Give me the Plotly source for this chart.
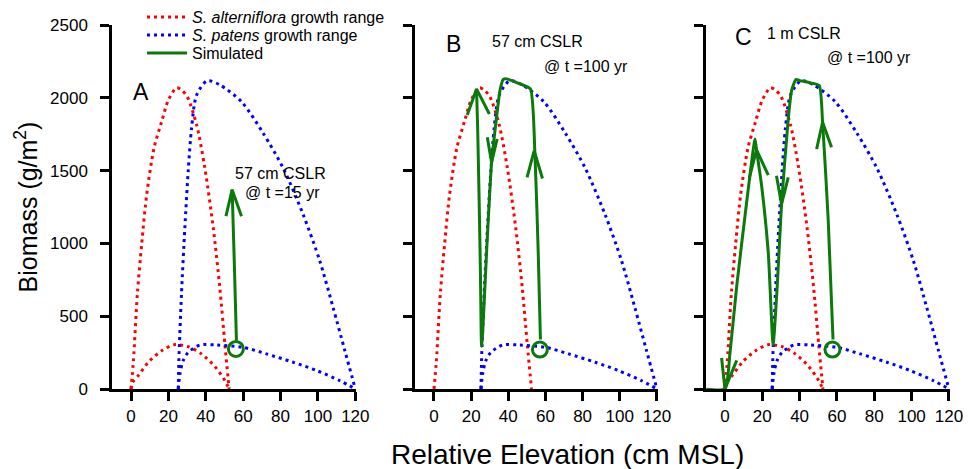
import plotly.graph_objects as go

# ---------------- data ----------------
# S. alterniflora growth range (upper & lower bounds)
alt_hi_x = [0, 1.3, 3.4, 5.7, 8.4, 12.3, 16.4, 20.0, 24.4, 27.3, 30.1, 35.1, 39.5, 44.0, 47.5, 50.2, 52.5]
alt_hi_y = [0, 195, 651, 993, 1335, 1654, 1837, 1985, 2069, 2050, 2007, 1814, 1517, 1107, 696, 309, 0]
alt_lo_x = [0, 0.8, 3.9, 9.3, 16.4, 23.0, 30.6, 37.7, 44.9, 50.2, 52.5]
alt_lo_y = [0, 45, 92, 184, 263, 304, 291, 241, 154, 58, 0]

# S. patens growth range (upper & lower bounds)
pat_hi_x = [25.3, 25.6, 27.0, 28.8, 30.6, 32.4, 35.1, 40.8, 47.6, 59.1, 70.7, 81.4, 92.1, 101.0, 108.1, 114.4, 120]
pat_hi_y = [0, 195, 651, 1107, 1495, 1791, 2019, 2117, 2088, 1973, 1757, 1517, 1198, 879, 560, 263, 0]
pat_lo_x = [25.3, 26.2, 27.9, 30.6, 36.9, 45.8, 60.0, 72.5, 86.7, 99.2, 111.6, 120]
pat_lo_y = [0, 104, 195, 252, 302, 302, 286, 241, 184, 127, 58, 0]

# Simulated trajectories
simA_x = [56.4, 55.3, 54.1]
simA_y = [332, 850, 1369]
simB_x = [57.3, 56.1, 54.3, 51.9, 46.2, 39.1, 37.3, 35.5, 34.0, 31.0, 28.3, 26.2, 25.6, 25.0, 24.3, 23.5, 22.9]
simB_y = [340, 937, 1625, 2061, 2096, 2130, 2126, 2050, 1901, 1556, 937, 386, 293, 800, 1300, 1800, 2061]
simC_x = [57.9, 55.3, 52.3, 50.5, 45.0, 40.1, 38.0, 35.7, 33.9, 30.3, 28.0, 25.8, 23.2, 19.6, 16.9, 16.1, 11.6, 6.3, 2.7, 0, -12]
simC_y = [340, 1166, 1832, 2084, 2105, 2118, 2125, 2050, 1855, 1269, 707, 305, 937, 1400, 1643, 1717, 1281, 707, 248, 0, 0]

# Starting points (open circles)
startA = (56.1, 275)
startB = (57.0, 271)
startC = (57.6, 271)

# Arrowheads (wing, tip, wing)
arrowsA = [([50.8, 54.1, 59.1], [1187, 1369, 1187])]
arrowsB = [([17.9, 22.9, 29.8], [1882, 2061, 1889]),
           ([28.7, 31.0, 34.0], [1729, 1556, 1717]),
           ([50.1, 53.9, 58.4], [1453, 1636, 1446])]
arrowsC = [([49.1, 52.3, 57.1], [1648, 1832, 1660]),
           ([27.6, 30.3, 33.9], [1464, 1269, 1453]),
           ([13.0, 16.9, 23.2], [1446, 1643, 1469]),
           ([-1.8, 0.0, 6.3], [213, 0, 197])]

panel_labels = ["A", "B", "C"]
scenario_line1 = ["57 cm CSLR", "57 cm CSLR", "1 m CSLR"]
scenario_line2 = ["@ t =15 yr", "@ t =100 yr", "@ t =100 yr"]

x_ticks = [0, 20, 40, 60, 80, 100, 120]
y_ticks = [0, 500, 1000, 1500, 2000, 2500]

RED = "#ff0000"
BLUE = "#0000ff"
GREEN = "#0b7a0b"
DOT = "3px,4px"
FONT = "Arial, Liberation Sans, sans-serif"

fig = go.Figure()

panels = [
    ("x", "y", simA_x, simA_y, startA, arrowsA, True),
    ("x2", "y2", simB_x, simB_y, startB, arrowsB, False),
    ("x3", "y3", simC_x, simC_y, startC, arrowsC, True),
]

for i, (xa, ya, sx, sy, st, arrows, show_red_low) in enumerate(panels):
    first = i == 0
    fig.add_trace(go.Scatter(x=alt_hi_x, y=alt_hi_y, xaxis=xa, yaxis=ya, mode="lines",
                             line=dict(color=RED, width=3, dash=DOT, shape="spline", smoothing=0.8),
                             name="<i>S. alterniflora</i> growth range", showlegend=first,
                             legend="legend", legendgroup="alt"))
    if show_red_low:
        fig.add_trace(go.Scatter(x=alt_lo_x, y=alt_lo_y, xaxis=xa, yaxis=ya, mode="lines",
                                 line=dict(color=RED, width=3, dash=DOT, shape="spline", smoothing=0.8),
                                 showlegend=False, legend="legend", legendgroup="alt"))
    fig.add_trace(go.Scatter(x=pat_hi_x, y=pat_hi_y, xaxis=xa, yaxis=ya, mode="lines",
                             line=dict(color=BLUE, width=3, dash=DOT, shape="spline", smoothing=0.8),
                             name="<i>S. patens</i> growth range", showlegend=first,
                             legend="legend2", legendgroup="pat"))
    fig.add_trace(go.Scatter(x=pat_lo_x, y=pat_lo_y, xaxis=xa, yaxis=ya, mode="lines",
                             line=dict(color=BLUE, width=3, dash=DOT, shape="spline", smoothing=0.8),
                             showlegend=False, legend="legend2", legendgroup="pat"))
    fig.add_trace(go.Scatter(x=sx, y=sy, xaxis=xa, yaxis=ya, mode="lines",
                             line=dict(color=GREEN, width=3, shape="spline", smoothing=0.5),
                             name="Simulated", showlegend=first, legend="legend3",
                             legendgroup="sim"))
    for ax_, ay_ in arrows:
        fig.add_trace(go.Scatter(x=ax_, y=ay_, xaxis=xa, yaxis=ya, mode="lines",
                                 line=dict(color=GREEN, width=3),
                                 showlegend=False, legend="legend3", legendgroup="sim"))
    fig.add_trace(go.Scatter(x=[st[0]], y=[st[1]], xaxis=xa, yaxis=ya, mode="markers",
                             marker=dict(symbol="circle-open", size=15, color=GREEN,
                                         line=dict(color=GREEN, width=3)),
                             showlegend=False, legend="legend3", legendgroup="sim"))

W, H = 976, 469
x_domains = [[112.3 / W, 355.9 / W], [415.4 / W, 657.5 / W], [706.3 / W, 949.5 / W]]
y_domain = [1 - 389 / H, 1 - 25 / H]

axis_common = dict(showline=True, linecolor="black", linewidth=3, ticks="outside",
                   ticklen=9, tickwidth=3, tickcolor="black", showgrid=False, zeroline=False,
                   automargin=False,
                   tickfont=dict(family=FONT, size=17, color="black"))

legend_common = dict(x=142 / W, xanchor="left", yanchor="middle",
                     bgcolor="rgba(0,0,0,0)", font=dict(family=FONT, size=16, color="black"),
                     tracegroupgap=0, itemwidth=40)

layout = dict(
    width=W, height=H, margin=dict(l=0, r=0, t=0, b=0, autoexpand=False),
    paper_bgcolor="white", plot_bgcolor="rgba(0,0,0,0)",
    font=dict(family=FONT, color="black"),
    legend=dict(legend_common, y=1 - 17 / H),
    legend2=dict(legend_common, y=1 - 35 / H),
    legend3=dict(legend_common, y=1 - 53 / H),
    showlegend=True,
)

for i in range(3):
    sfx = "" if i == 0 else str(i + 1)
    layout["xaxis" + sfx] = dict(axis_common, domain=x_domains[i], range=[-10, 120.3],
                                 tickvals=x_ticks, anchor="y" + sfx, ticklabelstandoff=1)
    layout["yaxis" + sfx] = dict(axis_common, domain=y_domain, range=[0, 2500],
                                 tickvals=y_ticks, anchor="x" + sfx,
                                 showticklabels=(i == 0), ticklabelstandoff=9)

layout["yaxis"]["title"] = dict(text="Biomass (g/m<sup>2</sup>)",
                                font=dict(family=FONT, size=25, color="black"), standoff=6)

fig.update_layout(**layout)

# panel letters and scenario labels (in data coordinates of each panel)
letter_pos = [(5.3, 2042), (10.7, 2371), (9.9, 2419)]
line1_pos = [(80.1, 1481), (55.6, 2385), (42.5, 2440)]
line2_pos = [(81.2, 1351), (81.9, 2213), (77.0, 2275)]
for i in range(3):
    sfx = "" if i == 0 else str(i + 1)
    fig.add_annotation(x=letter_pos[i][0], y=letter_pos[i][1], xref="x" + sfx, yref="y" + sfx,
                       text=panel_labels[i], showarrow=False,
                       font=dict(family=FONT, size=23, color="black"))
    fig.add_annotation(x=line1_pos[i][0], y=line1_pos[i][1], xref="x" + sfx, yref="y" + sfx,
                       text=scenario_line1[i], showarrow=False,
                       font=dict(family=FONT, size=16, color="black"))
    fig.add_annotation(x=line2_pos[i][0], y=line2_pos[i][1], xref="x" + sfx, yref="y" + sfx,
                       text=scenario_line2[i], showarrow=False,
                       font=dict(family=FONT, size=16, color="black"))

fig.add_annotation(x=567 / W, y=1 - 454 / H, xref="paper", yref="paper",
                   xanchor="center", yanchor="middle",
                   text="Relative Elevation (cm MSL)", showarrow=False,
                   font=dict(family=FONT, size=28, color="black"))

fig.write_html("out.html")
